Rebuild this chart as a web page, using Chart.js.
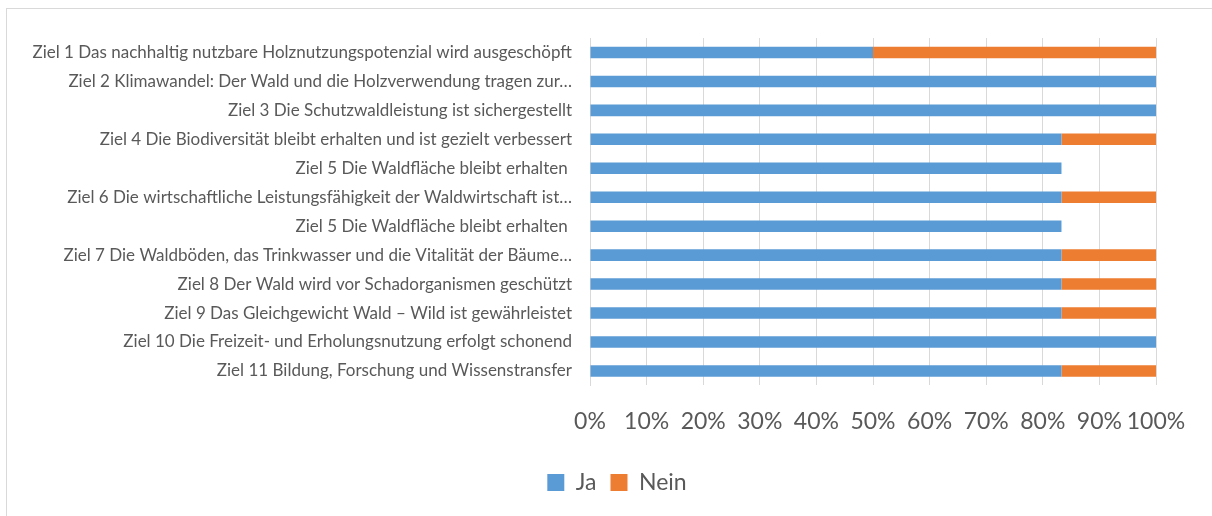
<!DOCTYPE html>
<html>
<head>
<meta charset="utf-8">
<script src="https://cdn.jsdelivr.net/npm/chart.js@4"></script>
<style>
  html, body { margin: 0; padding: 0; background: #fff; }
  #wrap {
    position: absolute; left: 0; top: 0; width: 1212px; height: 516px;
  }
  #frame {
    position: absolute; left: 6px; top: 8px; right: -2px; bottom: -2px;
    border-left: 1px solid #d9d9d9; border-top: 1px solid #d9d9d9;
  }
</style>
</head>
<body>
<div id="wrap">
  <div id="frame"></div>
  <canvas id="chart" width="1212" height="516"></canvas>
</div>
<script>
// categories, top to bottom
const categories = [
  'Ziel 1 Das nachhaltig nutzbare Holznutzungspotenzial wird ausgeschöpft',
  'Ziel 2 Klimawandel: Der Wald und die Holzverwendung tragen zur…',
  'Ziel 3 Die Schutzwaldleistung ist sichergestellt',
  'Ziel 4 Die Biodiversität bleibt erhalten und ist gezielt verbessert',
  'Ziel 5 Die Waldfläche bleibt erhalten ',
  'Ziel 6 Die wirtschaftliche Leistungsfähigkeit der Waldwirtschaft ist…',
  'Ziel 5 Die Waldfläche bleibt erhalten ',
  'Ziel 7 Die Waldböden, das Trinkwasser und die Vitalität der Bäume…',
  'Ziel 8 Der Wald wird vor Schadorganismen geschützt',
  'Ziel 9 Das Gleichgewicht Wald – Wild ist gewährleistet',
  'Ziel 10 Die Freizeit- und Erholungsnutzung erfolgt schonend',
  'Ziel 11 Bildung, Forschung und Wissenstransfer'
];

// shares in percent
const jaValues   = [50, 100, 100, 83.3, 83.3, 83.3, 83.3, 83.3, 83.3, 83.3, 100, 83.3];
const neinValues = [50, 0, 0, 16.7, 0, 16.7, 0, 16.7, 16.7, 16.7, 0, 16.7];

const xTicks = [0, 10, 20, 30, 40, 50, 60, 70, 80, 90, 100];

const fontFamily = 'Lato, "Open Sans", sans-serif';
const textColor = '#595959';

// legend sits a bit right of centre in the original
const shiftLegend = {
  id: 'shiftLegend',
  afterLayout(chart) {
    if (chart.legend) {
      chart.legend.left += 36;
      chart.legend.right += 36;
    }
  }
};

new Chart(document.getElementById('chart'), {
  type: 'bar',
  data: {
    labels: categories,
    datasets: [
      {
        label: 'Ja',
        data: jaValues,
        backgroundColor: '#5b9bd5',
        borderWidth: 0,
        barPercentage: 0.4,
        categoryPercentage: 1
      },
      {
        label: 'Nein',
        data: neinValues,
        backgroundColor: '#ed7d31',
        borderWidth: 0,
        barPercentage: 0.4,
        categoryPercentage: 1
      }
    ]
  },
  options: {
    indexAxis: 'y',
    responsive: false,
    animation: false,
    layout: {
      padding: { left: 6, right: 56, top: 38, bottom: 12 }
    },
    plugins: {
      tooltip: { enabled: false },
      legend: {
        position: 'bottom',
        labels: {
          color: textColor,
          font: { family: fontFamily, size: 23 },
          boxWidth: 17,
          boxHeight: 17,
          padding: 14
        }
      }
    },
    scales: {
      x: {
        stacked: true,
        min: 0,
        max: 100,
        afterBuildTicks: (scale) => {
          scale.ticks = xTicks.map(v => ({ value: v }));
        },
        ticks: {
          color: textColor,
          font: { family: fontFamily, size: 23 },
          padding: 22,
          maxRotation: 0,
          autoSkip: false,
          callback: (v) => v + '%'
        },
        grid: { color: '#d9d9d9', drawTicks: false },
        border: { display: false }
      },
      y: {
        stacked: true,
        afterFit: (scale) => { scale.width = 584; },
        ticks: {
          color: textColor,
          font: { family: fontFamily, size: 17 },
          padding: 18,
          autoSkip: false
        },
        grid: { display: false, drawTicks: false },
        border: { display: true, color: '#d9d9d9' }
      }
    }
  },
  plugins: [shiftLegend]
});
</script>
</body>
</html>
